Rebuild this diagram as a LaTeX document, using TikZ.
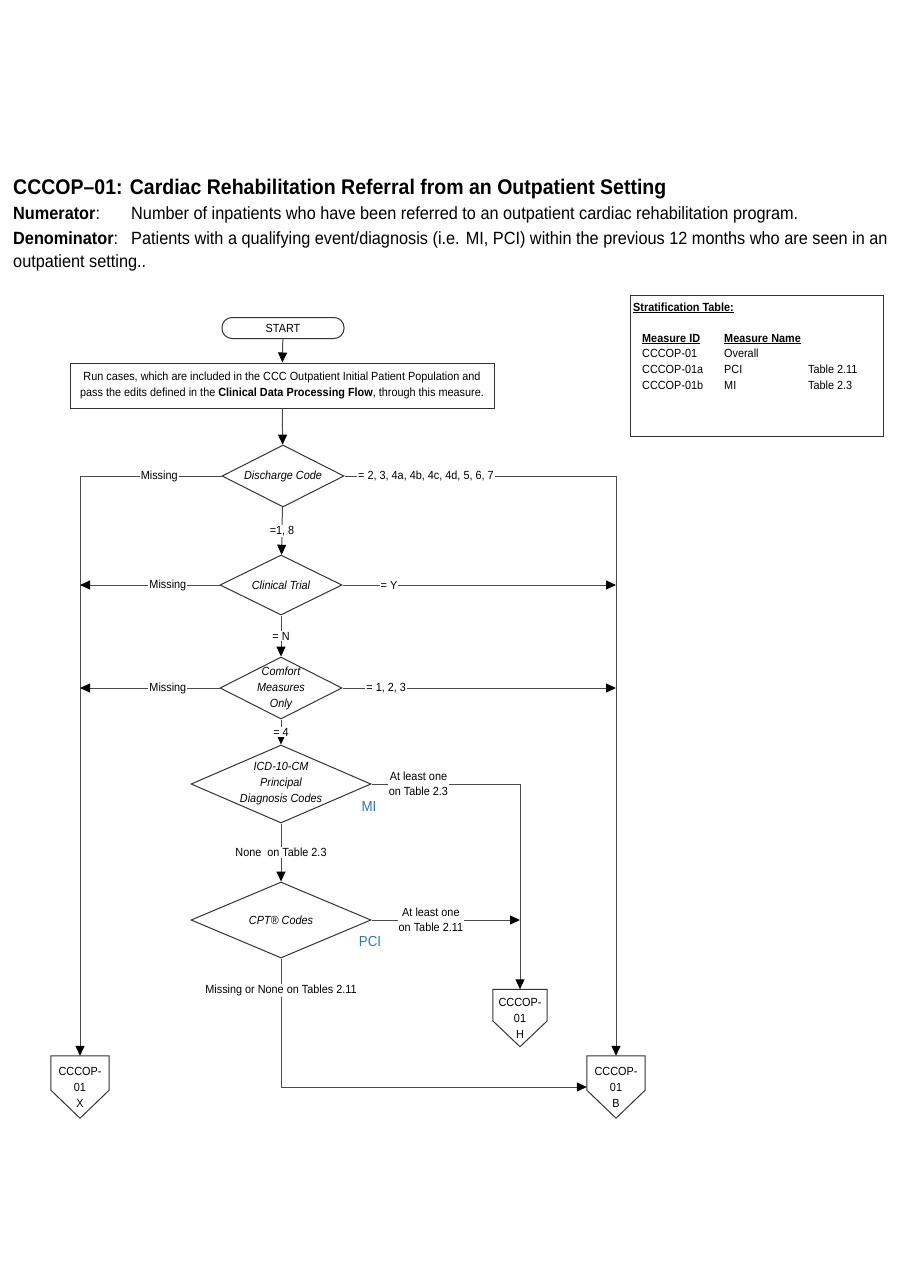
\documentclass[tikz,border=0pt]{standalone}
\usepackage{fontspec}
\setmainfont{Liberation Sans}[FakeStretch=0.92]
\usetikzlibrary{shapes.geometric,arrows.meta,calc}
\definecolor{mblue}{HTML}{2E75B6}
\begin{document}
\begin{tikzpicture}[
    x=1pt, y=-1pt,
    every node/.style={font=\fontsize{11.8}{15.5}\selectfont, align=center},
    line/.style={draw=black!70, line width=1pt},
    flow/.style={line, -{Triangle[color=black, length=10pt, width=9pt]}},
    terminal/.style={draw=black!80, line width=1pt, rounded corners=10pt,
      minimum width=122pt, minimum height=21pt, inner sep=0pt},
    process/.style={draw=black!80, line width=1pt, minimum width=424pt,
      minimum height=45pt, inner sep=0pt},
    decision/.style={draw=black!80, diamond, line width=1pt, inner sep=0pt},
    dtext/.style={font=\fontsize{11.8}{16}\selectfont\itshape},
    offpage/.style={minimum width=58pt, minimum height=62pt, inner sep=0pt,
      font=\fontsize{11.8}{16}\selectfont},
    cond/.style={fill=white, inner sep=1pt},
    tag/.style={text=mblue, font=\fontsize{14.5}{15}\selectfont},
    head/.style={anchor=base west, inner sep=0pt, font=\fontsize{17.7}{20}\selectfont},
    cell/.style={anchor=base west, inner sep=0pt, font=\fontsize{11.8}{14}\selectfont},
  ]
  \useasboundingbox (0,0) rectangle (900,1286);

  % heading
  \node[head, font=\fontsize{21.2}{24}\selectfont\bfseries] (title) at (13,194)
    {CCCOP--01: Cardiac Rehabilitation Referral from an Outpatient Setting};
  \node[head] (numlbl) at (13,219) {\textbf{Numerator}:};
  \node[head] (numtxt) at (131,219)
    {Number of inpatients who have been referred to an outpatient cardiac rehabilitation program.};
  \node[head] (denlbl) at (13,244) {\textbf{Denominator}:};
  \node[head] (dentxt) at (131,244)
    {Patients with a qualifying event/diagnosis (i.e. MI, PCI) within the previous 12 months who are seen in an};
  \node[head] (dentxt2) at (13,267) {outpatient setting..};

  % stratification table
  \node[draw=black!80, line width=1pt, minimum width=253pt, minimum height=141pt,
    inner sep=0pt] (strat) at (756.5,365.5) {};
  \node[cell] (strathead) at (633,311) {\textbf{\underline{Stratification Table:}}};
  \node[cell] (idhead) at (642,342) {\textbf{\underline{Measure ID}}};
  \node[cell] (namehead) at (724,342) {\textbf{\underline{Measure Name}}};
  \node[cell] (id1) at (642,357) {CCCOP-01};
  \node[cell] (name1) at (724,357) {Overall};
  \node[cell] (id2) at (642,373) {CCCOP-01a};
  \node[cell] (name2) at (724,373) {PCI};
  \node[cell] (tab2) at (808,373) {Table 2.11};
  \node[cell] (id3) at (642,389) {CCCOP-01b};
  \node[cell] (name3) at (724,389) {MI};
  \node[cell] (tab3) at (808,389) {Table 2.3};

  % flow
  \node[terminal] (start) at (283,328) {START};
  \node[process] (run) at (282,385.5)
    {Run cases, which are included in the CCC Outpatient Initial Patient Population and\\
     pass the edits defined in the \textbf{Clinical Data Processing Flow}, through this measure.};
  \node[decision, minimum width=122pt, minimum height=62pt,
    label={[dtext]center:Discharge Code}] (discharge) at (283,476) {};
  \node[decision, minimum width=122pt, minimum height=60pt,
    label={[dtext]center:Clinical Trial}] (clinical) at (281,585) {};
  \node[decision, minimum width=122pt, minimum height=62pt,
    label={[dtext]center:Comfort\\Measures\\Only}] (comfort) at (281,688) {};
  \node[decision, minimum width=180pt, minimum height=78pt,
    label={[dtext]center:ICD-10-CM\\Principal\\Diagnosis Codes}] (icd) at (281,784) {};
  \node[decision, minimum width=180pt, minimum height=76pt,
    label={[dtext]center:CPT\textregistered{} Codes}] (cpt) at (281,920) {};
  \node[tag] (mi) at (369,807) {MI};
  \node[tag] (pci) at (370,941) {PCI};

  % off page connectors
  \node[offpage, minimum width=54pt, minimum height=57pt] (h) at (520,1018) {CCCOP-\\01\\H};
  \node[offpage] (x) at (80,1087) {CCCOP-\\01\\X};
  \node[offpage] (b) at (616,1087) {CCCOP-\\01\\B};
  \foreach \n in {h,x,b}
    \draw[draw=black!80, line width=1pt] (\n.north west) -- (\n.north east)
      -- ($(\n.north east)!0.55!(\n.south east)$) -- (\n.south)
      -- ($(\n.north west)!0.55!(\n.south west)$) -- cycle;

  \draw[flow] (start) -- (run);
  \draw[flow] (run) -- (discharge);
  \draw[flow] (discharge) -- node[cond] (c18) {=1, 8} (clinical);
  \draw[flow] (clinical) -- node[cond] (cn) {= N} (comfort);
  \draw[flow] (comfort) -- node[cond] (c4) {= 4} (icd);
  \draw[flow] (icd) -- node[cond] (cnone) {None~ on Table 2.3} (cpt);

  \draw[flow] (discharge.west) -| node[cond, pos=0.22] (dmiss) {Missing} (x.north);
  \draw[flow] (clinical.west) -- node[cond, pos=0.37] (tmiss) {Missing} (clinical.west -| x.north);
  \draw[flow] (comfort.west) -- node[cond, pos=0.37] (cmiss) {Missing} (comfort.west -| x.north);

  \draw[flow] (discharge.east) -| node[cond, pos=0.15] (dyes) {= 2, 3, 4a, 4b, 4c, 4d, 5, 6, 7} (b.north);
  \draw[flow] (clinical.east) -- node[cond, pos=0.17] (tyes) {= Y} (clinical.east -| b.north);
  \draw[flow] (comfort.east) -- node[cond, pos=0.16] (cyes) {= 1, 2, 3} (comfort.east -| b.north);

  \draw[flow] (icd.east) -| node[cond, pos=0.158] (iyes) {At least one\\on Table 2.3} (h.north);
  \draw[flow] (cpt.east) -- node[cond, pos=0.40] (pyes) {At least one\\on Table 2.11} (cpt.east -| h.north);
  \draw[flow] (cpt.south) |- node[cond, pos=0.124] (pno) {Missing or None on Tables 2.11} (b.west);
\end{tikzpicture}
\end{document}
